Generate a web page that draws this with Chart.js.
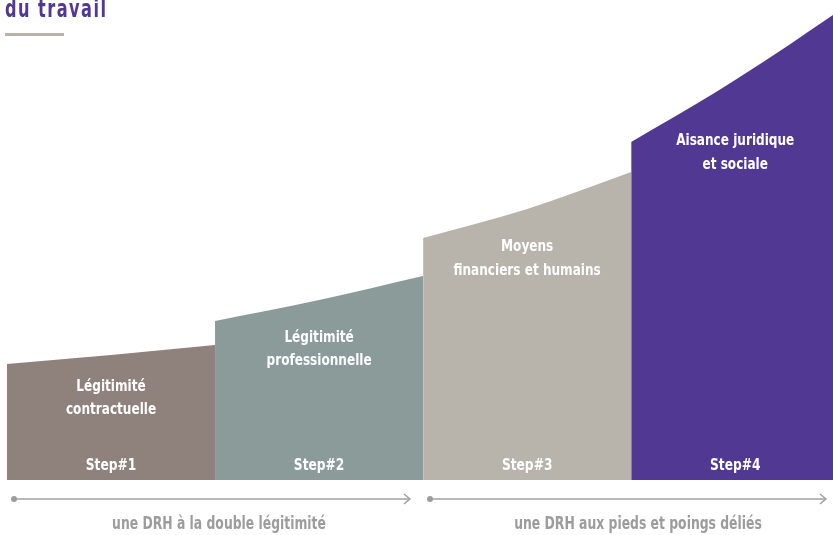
<!DOCTYPE html>
<html>
<head>
<meta charset="utf-8">
<script src="https://cdn.jsdelivr.net/npm/chart.js@4.4.1/dist/chart.umd.min.js"></script>
<style>
    html, body { margin: 0; padding: 0; background: #fff; overflow: hidden; }
    #wrap { position: relative; width: 833px; height: 535px; }
</style>
</head>
<body>
<div id="wrap"><canvas id="steps" width="833" height="535"></canvas></div>
<script>
// ========== DONNÉES ==========
const stepLabels = ["Step#1", "Step#2", "Step#3", "Step#4"];
const stepTitles = [
    ["Légitimité", "contractuelle"],
    ["Légitimité", "professionnelle"],
    ["Moyens", "financiers et humains"],
    ["Aisance juridique", "et sociale"],
];
const step1X = [0, 0.5, 1];
const step1Y = [116, 125, 135];
const step2X = [1, 1.5, 2];
const step2Y = [159, 180, 204];
const step3X = [2, 2.5, 3];
const step3Y = [242, 271, 308];
const step4X = [3, 3.4, 3.7, 3.97];
const step4Y = [338, 387, 427, 465];
const phaseLabels = ["une DRH à la double légitimité", "une DRH aux pieds et poings déliés"];
const colors = ["#8f817c", "#8a9b9a", "#b8b4ac", "#513893"];

const FONT = '"Liberation Sans Narrow", "DejaVu Sans Condensed", sans-serif';

function pts(xs, ys) {
    return xs.map((x, i) => ({ x: x, y: ys[i] }));
}

function serie(xs, ys, color) {
    return {
        data: pts(xs, ys),
        borderWidth: 0,
        borderColor: color,
        backgroundColor: color,
        fill: "origin",
        pointRadius: 0,
        tension: 0.4,
        cubicInterpolationMode: "monotone",
    };
}

// texte condensé : on resserre horizontalement
function condensed(c, txt, x, y, sx) {
    c.save();
    c.translate(x, y);
    c.scale(sx, 1);
    c.fillText(txt, 0, 0);
    c.restore();
}

// ========== TEXTES ET FLÈCHES ==========
const decor = {
    id: "decor",
    afterDatasetsDraw(chart) {
        const c = chart.ctx;
        const xs = chart.scales.x;
        c.save();

        // titre coupé en haut
        c.fillStyle = "#513893";
        c.font = "bold 25px " + FONT;
        c.letterSpacing = "2px";
        c.textAlign = "left";
        c.textBaseline = "alphabetic";
        condensed(c, "du travail", 5, 17, 0.72);
        c.letterSpacing = "0px";
        c.fillStyle = "#b8b4ac";
        c.fillRect(5, 33, 59, 3);

        // libellés des étapes
        const titleY = [[387, 410], [338, 361], [247, 271], [141, 165]];
        c.fillStyle = "#ffffff";
        c.textAlign = "center";
        c.textBaseline = "middle";
        c.font = "bold 16px " + FONT;
        stepLabels.forEach((lab, i) => {
            const cx = xs.getPixelForValue(i + 0.5);
            condensed(c, lab, cx, 466, 0.85);
            stepTitles[i].forEach((t, j) => condensed(c, t, cx, titleY[i][j], 0.84));
        });

        // flèches du bas
        const arrows = [[14, 410], [430, 826]];
        const labelX = [219, 638];
        c.strokeStyle = "#a0a0a0";
        c.fillStyle = "#9c9c9c";
        c.lineWidth = 1.5;
        arrows.forEach(([a, b], i) => {
            c.beginPath();
            c.moveTo(a, 499);
            c.lineTo(b, 499);
            c.stroke();
            c.beginPath();
            c.arc(a, 499, 3, 0, Math.PI * 2);
            c.fill();
            c.beginPath();
            c.moveTo(b - 6, 494);
            c.lineTo(b, 499);
            c.lineTo(b - 6, 504);
            c.stroke();
            c.font = "bold 17px " + FONT;
            condensed(c, phaseLabels[i], labelX[i], 525, 0.81);
        });
        c.restore();
    },
};

new Chart(document.getElementById("steps"), {
    type: "line",
    data: {
        datasets: [
            serie(step1X, step1Y, colors[0]),
            serie(step2X, step2Y, colors[1]),
            serie(step3X, step3Y, colors[2]),
            serie(step4X, step4Y, colors[3]),
        ],
    },
    options: {
        responsive: false,
        animation: false,
        devicePixelRatio: 1,
        layout: { padding: { left: 7, right: 0, top: 0, bottom: 55 } },
        plugins: { legend: { display: false }, tooltip: { enabled: false } },
        scales: {
            x: { type: "linear", min: 0, max: 3.97, display: false },
            y: { min: 0, max: 480, display: false },
        },
    },
    plugins: [decor],
});
</script>
</body>
</html>
